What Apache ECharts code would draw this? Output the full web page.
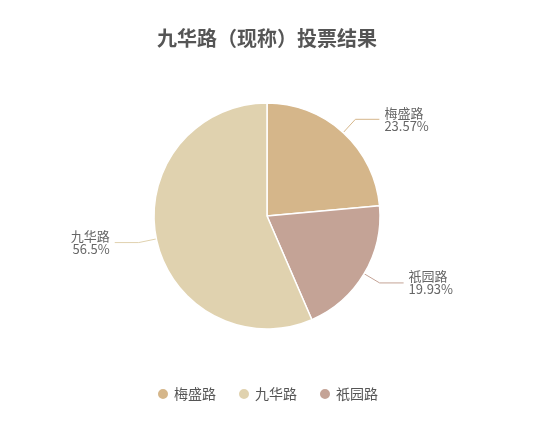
<!DOCTYPE html>
<html><head><meta charset="utf-8">
<script src="https://cdn.jsdelivr.net/npm/echarts@6/dist/echarts.min.js"></script>
<style>html,body{margin:0;padding:0;background:#fff}#c{width:534px;height:434px}</style>
</head><body><div id="c"></div>
<script>
const categories = ['梅盛路', '祇园路', '九华路'];
const values = [23.57, 19.93, 56.5];
const legendOrder = ['梅盛路', '九华路', '祇园路'];
const colors = ['#d5b68a', '#c4a396', '#e0d2af'];

const chart = echarts.init(document.getElementById('c'));
chart.setOption({
  title: {
    text: '九华路（现称）投票结果',
    left: 'center', top: 23,
    textStyle: { fontSize: 20, fontWeight: 'bold', color: '#555', fontFamily: 'Noto Sans CJK SC' }
  },
  legend: {
    data: legendOrder, bottom: 28, icon: 'circle', itemWidth: 12, itemHeight: 12, itemGap: 21,
    textStyle: { color: '#555', fontSize: 14, fontFamily: 'Noto Sans CJK SC' }
  },
  color: colors,
  series: [{
    type: 'pie',
    center: ['50%', '216'],
    radius: 113,
    startAngle: 90,
    data: categories.map((n, i) => ({ name: n, value: values[i] })),
    itemStyle: { borderColor: '#fff', borderWidth: 1.5 },
    label: {
      formatter: '{b}\n{d}%', color: '#666', fontSize: 13, lineHeight: 13,
      fontFamily: 'Noto Sans CJK SC'
    },
    labelLine: { length: 18, length2: 24 }
  }]
});
</script></body></html>
